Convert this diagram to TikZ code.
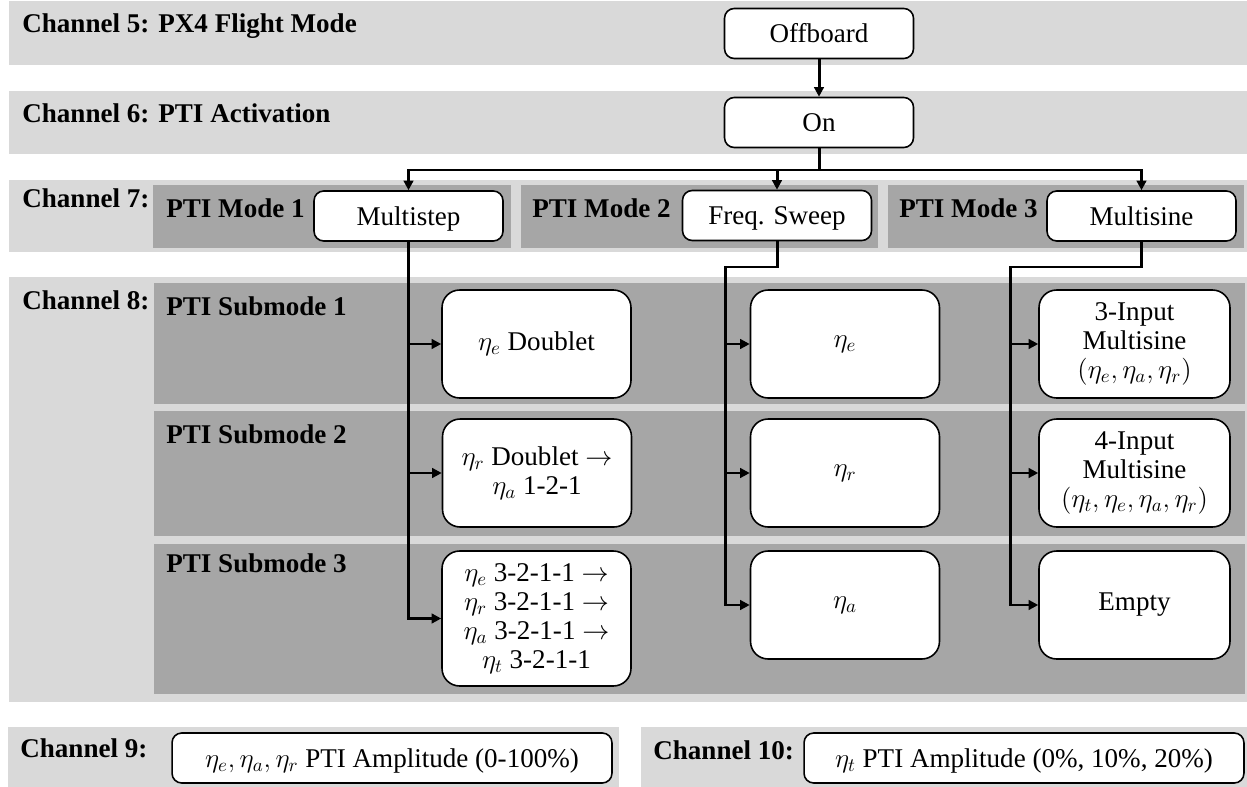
\documentclass[tikz,border=0pt]{standalone}
\usepackage{fix-cm}
\usepackage{fontspec}
\setmainfont{Liberation Serif}
\usetikzlibrary{arrows.meta}
\definecolor{bandgray}{HTML}{D9D9D9}
\definecolor{modegray}{HTML}{A6A6A6}
\begin{document}
\begin{tikzpicture}[x=0.02cm, y=-0.02cm, font=\fontsize{15.4}{16.5}\selectfont,
	box/.style={draw, fill=white, line width=0.9pt, rounded corners=5.5pt, align=center, inner sep=0pt, minimum width=3.78cm, minimum height=1.0cm},
	smallbox/.style={box, text height=12.5pt, text depth=2pt},
	bigbox/.style={box, rounded corners=10pt, minimum height=2.16cm},
	chan/.style={anchor=base west, inner sep=0pt, font=\fontsize{15.4}{16.5}\selectfont\bfseries},
	link/.style={line width=1.7pt},
	linkarrow/.style={link, -{Triangle[length=5.5pt, width=5.5pt]}}]
	\useasboundingbox (0,0) rectangle (1247,787);
	\fill[bandgray] (9,1) rectangle (1247,65);
	\fill[bandgray] (9,91) rectangle (1247,154);
	\fill[bandgray] (9,180) rectangle (1247,252);
	\fill[bandgray] (9,277) rectangle (1247,702);
	\fill[bandgray] (8,727) rectangle (619,787);
	\fill[bandgray] (641,727) rectangle (1247,787);
	\fill[modegray] (153,185) rectangle (511,248);
	\fill[modegray] (521,185) rectangle (878,248);
	\fill[modegray] (888,185) rectangle (1244,248);
	\fill[modegray] (154,283) rectangle (1245,404);
	\fill[modegray] (154,411) rectangle (1245,536);
	\fill[modegray] (154,544) rectangle (1245,694);
	\node[chan] (chFive) at (22,33) {Channel 5: PX4 Flight Mode};
	\node[chan] (chSix) at (22,123) {Channel 6: PTI Activation};
	\node[chan] (chSeven) at (22,208) {Channel 7:};
	\node[chan] (chEight) at (22,309) {Channel 8:};
	\node[chan] (chNine) at (20,757) {Channel 9:};
	\node[chan] (chTen) at (653,759) {Channel 10:};
	\node[chan] (modeOne) at (166,217) {PTI Mode 1};
	\node[chan] (modeTwo) at (532,217) {PTI Mode 2};
	\node[chan] (modeThree) at (899,217) {PTI Mode 3};
	\node[chan] (subOne) at (166,315) {PTI Submode 1};
	\node[chan] (subTwo) at (166,443) {PTI Submode 2};
	\node[chan] (subThree) at (166,572) {PTI Submode 3};
	\node[smallbox] (offboard) at (819,33.5) {Offboard};
	\node[smallbox] (on) at (819,122.5) {On};
	\node[smallbox] (multistep) at (408.5,216) {Multistep};
	\node[smallbox] (sweep) at (777,215.5) {Freq. Sweep};
	\node[smallbox] (multisine) at (1141.5,216) {Multisine};
	\node[bigbox] (stepA) at (536.5,344) {$\eta_e$ Doublet};
	\node[bigbox] (stepB) at (537,473) {$\eta_r$ Doublet $\rightarrow$\\$\eta_a$ 1-2-1};
	\node[bigbox, minimum height=2.7cm] (stepC) at (536.5,618.5) {$\eta_e$ 3-2-1-1 $\rightarrow$\\$\eta_r$ 3-2-1-1 $\rightarrow$\\$\eta_a$ 3-2-1-1 $\rightarrow$\\$\eta_t$ 3-2-1-1};
	\node[bigbox] (sweepA) at (845,344) {$\eta_e$};
	\node[bigbox] (sweepB) at (845,473) {$\eta_r$};
	\node[bigbox] (sweepC) at (845,605) {$\eta_a$};
	\node[bigbox, minimum width=3.82cm] (sineA) at (1134.5,344) {3-Input\\Multisine\\$(\eta_e,\eta_a,\eta_r)$};
	\node[bigbox, minimum width=3.82cm] (sineB) at (1134.5,473) {4-Input\\Multisine\\$(\eta_t,\eta_e,\eta_a,\eta_r)$};
	\node[bigbox, minimum width=3.82cm] (sineC) at (1134.5,605) {Empty};
	\node[smallbox, minimum width=8.8cm] (ampA) at (392,758) {$\eta_e,\eta_a,\eta_r$ PTI Amplitude (0-100\%)};
	\node[smallbox, minimum width=8.8cm] (ampB) at (1024,758) {$\eta_t$ PTI Amplitude (0\%, 10\%, 20\%)};
	\coordinate (split) at (819,170);
	\coordinate (sweepbend) at (725,267);
	\coordinate (sinebend) at (1010,267);
	\draw[linkarrow] (offboard.south) -- (on.north);
	\draw[link] (on.south) -- (split);
	\draw[linkarrow] (split) -| (multistep.north);
	\draw[linkarrow] (split -| sweep.north) -- (sweep.north);
	\draw[linkarrow] (split) -| (multisine.north);
	\draw[linkarrow] (multistep.south) |- (stepC.west);
	\draw[linkarrow] (multistep.south |- stepA.west) -- (stepA.west);
	\draw[linkarrow] (multistep.south |- stepB.west) -- (stepB.west);
	\draw[linkarrow] (sweep.south) |- (sweepbend) |- (sweepC.west);
	\draw[linkarrow] (sweepbend |- sweepA.west) -- (sweepA.west);
	\draw[linkarrow] (sweepbend |- sweepB.west) -- (sweepB.west);
	\draw[linkarrow] (multisine.south) |- (sinebend) |- (sineC.west);
	\draw[linkarrow] (sinebend |- sineA.west) -- (sineA.west);
	\draw[linkarrow] (sinebend |- sineB.west) -- (sineB.west);
\end{tikzpicture}
\end{document}
